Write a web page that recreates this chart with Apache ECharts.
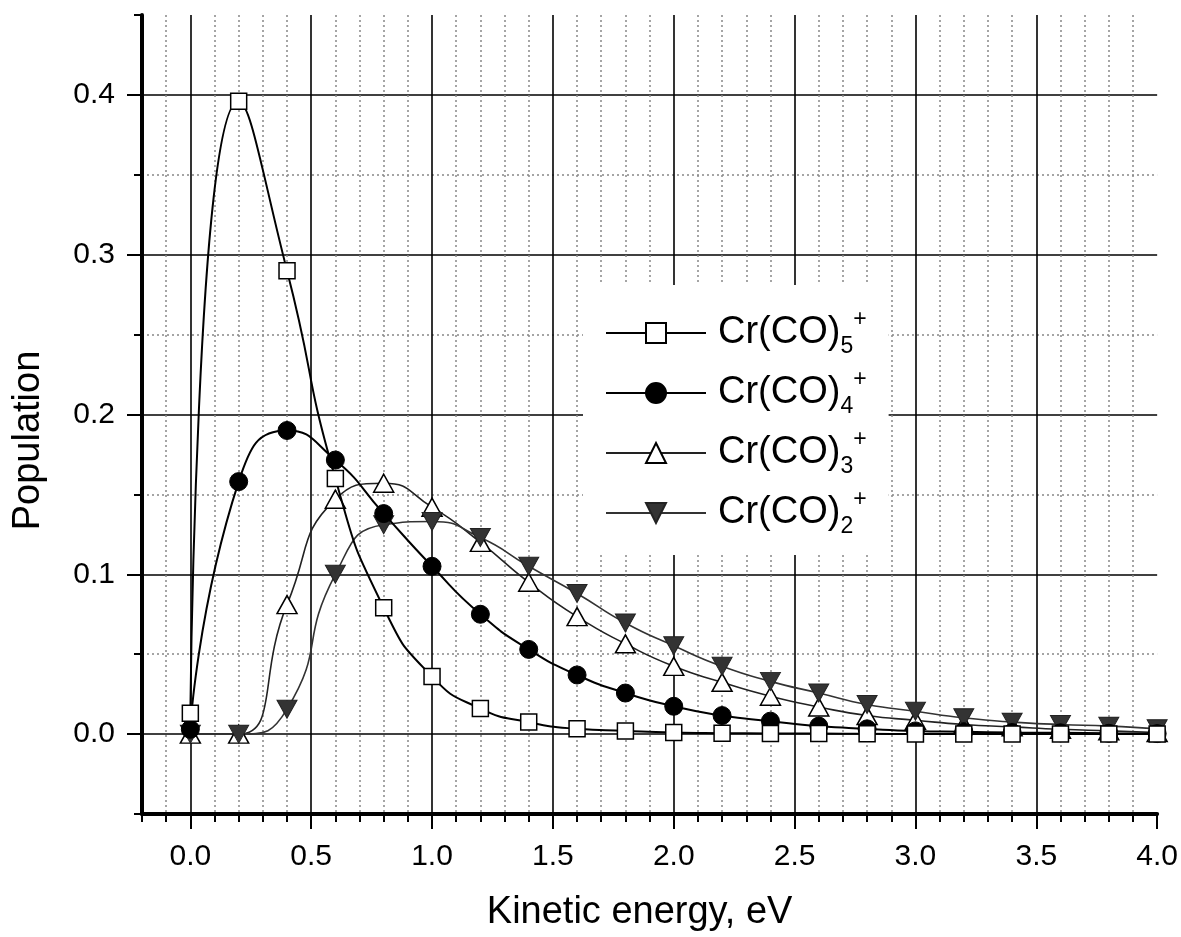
<!DOCTYPE html>
<html><head><meta charset="utf-8">
<script src="https://cdn.jsdelivr.net/npm/echarts@6/dist/echarts.min.js"></script>
<style>html,body{margin:0;padding:0;background:#fff}#c{width:1181px;height:937px}</style>
</head><body><div id="c"></div>
<script>
// ---- data ----
const energy = [0, 0.2, 0.4, 0.6, 0.8, 1.0, 1.2, 1.4, 1.6, 1.8, 2.0, 2.2, 2.4, 2.6, 2.8, 3.0, 3.2, 3.4, 3.6, 3.8, 4.0];
const cr5 = [0.013, 0.396, 0.290, 0.160, 0.079, 0.036, 0.016, 0.0075, 0.0033, 0.002, 0.001, 0.0006, 0.0004, 0.0003, 0.0002, 0.0001, 0.0001, 0, 0, 0, 0];
const cr4 = [0.003, 0.158, 0.190, 0.1715, 0.138, 0.105, 0.075, 0.053, 0.037, 0.0257, 0.0174, 0.0116, 0.0081, 0.005, 0.0033, 0.002, 0.0015, 0.001, 0.0008, 0.0005, 0.0003];
const cr3 = [0, 0, 0.081, 0.147, 0.157, 0.142, 0.120, 0.095, 0.0735, 0.0565, 0.0424, 0.0324, 0.0237, 0.017, 0.0116, 0.0087, 0.006, 0.0045, 0.003, 0.002, 0.001];
const cr2 = [0, 0, 0.0156, 0.100, 0.131, 0.133, 0.123, 0.105, 0.088, 0.0695, 0.0553, 0.0424, 0.033, 0.0257, 0.0185, 0.0143, 0.0102, 0.0075, 0.006, 0.005, 0.0033];
const seriesNames = ['Cr(CO)5+', 'Cr(CO)4+', 'Cr(CO)3+', 'Cr(CO)2+'];

// ---- tick / grid positions ----
const xMajorTicks = [0, 0.5, 1.0, 1.5, 2.0, 2.5, 3.0, 3.5, 4.0];
const xMajorGrid = [0, 0.5, 1.0, 1.5, 2.0, 2.5, 3.0, 3.5];
const xMinorGrid = [-0.1, 0.1, 0.2, 0.3, 0.4, 0.6, 0.7, 0.8, 0.9, 1.1, 1.2, 1.3, 1.4, 1.6, 1.7, 1.8, 1.9, 2.1, 2.2, 2.3, 2.4, 2.6, 2.7, 2.8, 2.9, 3.1, 3.2, 3.3, 3.4, 3.6, 3.7, 3.8, 3.9];
const yMajorTicks = [0, 0.1, 0.2, 0.3, 0.4];
const yMinorGrid = [0.05, 0.15, 0.25, 0.35];

const FONT = "'Liberation Sans', Arial, Helvetica, sans-serif";
const X_MIN = -0.2, X_MAX = 4.0, Y_MIN = -0.05, Y_MAX = 0.45;

function pairs(ys) { return energy.map((x, i) => [x, ys[i]]); }

function hiddenAxis(extra) {
  return Object.assign({
    type: 'value', axisLine: { show: false, onZero: false },
    axisLabel: { show: false }, axisPointer: { show: false }
  }, extra);
}

const chart = echarts.init(document.getElementById('c'), null, { renderer: 'canvas' });
const option = {
  animation: false,
  backgroundColor: '#fff',
  grid: { left: 142, right: 22, top: 15, bottom: 119 },
  xAxis: [
    {
      type: 'value', min: X_MIN, max: X_MAX, position: 'bottom',
      axisLine: { show: true, onZero: false, lineStyle: { color: '#000', width: 4 } },
      axisTick: { show: true, customValues: xMajorTicks, length: 15, lineStyle: { color: '#000', width: 2 } },
      axisLabel: { show: true, customValues: xMajorTicks, formatter: v => v.toFixed(1), margin: 28, fontSize: 30, color: '#000', fontFamily: FONT },
      splitLine: { show: false },
      name: 'Kinetic energy, eV', nameLocation: 'middle', nameGap: 80,
      nameTextStyle: { fontSize: 38, color: '#000', fontFamily: FONT, padding: [0, 20, 0, 0] }
    },
    hiddenAxis({ min: X_MIN, max: X_MAX, interval: 0.1, position: 'bottom',
      axisTick: { show: true, length: 8, lineStyle: { color: '#000', width: 2 } },
      splitLine: { show: false } }),
    hiddenAxis({ min: X_MIN, max: X_MAX, position: 'bottom',
      axisTick: { show: false, customValues: xMinorGrid },
      splitLine: { show: true, lineStyle: { color: '#888', width: 1.5, type: [2, 3] } } }),
    hiddenAxis({ min: X_MIN, max: X_MAX, position: 'bottom',
      axisTick: { show: false, customValues: xMajorGrid },
      splitLine: { show: true, lineStyle: { color: '#000', width: 1.6 } } })
  ],
  yAxis: [
    {
      type: 'value', min: Y_MIN, max: Y_MAX, position: 'left',
      axisLine: { show: true, onZero: false, lineStyle: { color: '#000', width: 4 } },
      axisTick: { show: true, customValues: yMajorTicks, length: 15, lineStyle: { color: '#000', width: 2 } },
      axisLabel: { show: true, customValues: yMajorTicks, formatter: v => v.toFixed(1), margin: 27, fontSize: 30, color: '#000', fontFamily: FONT },
      splitLine: { show: false },
      name: 'Population', nameLocation: 'middle', nameGap: 94,
      nameTextStyle: { fontSize: 38, color: '#000', fontFamily: FONT, padding: [0, 52, 0, 0] }
    },
    hiddenAxis({ min: Y_MIN, max: Y_MAX, interval: 0.05, position: 'left',
      axisTick: { show: true, length: 8, lineStyle: { color: '#000', width: 2 } },
      splitLine: { show: false } }),
    hiddenAxis({ min: Y_MIN, max: Y_MAX, position: 'left',
      axisTick: { show: false, customValues: yMinorGrid },
      splitLine: { show: true, lineStyle: { color: '#888', width: 1.5, type: [2, 3] } } }),
    hiddenAxis({ min: Y_MIN, max: Y_MAX, position: 'left',
      axisTick: { show: false, customValues: yMajorTicks },
      splitLine: { show: true, lineStyle: { color: '#000', width: 1.6 } } })
  ],
  legend: {
    orient: 'vertical', left: 583, top: 285,
    padding: [23, 22, 17, 22], itemGap: 10,
    itemWidth: 100, itemHeight: 25,
    backgroundColor: '#fff', selectedMode: false,
    data: seriesNames,
    formatter: function (name) {
      const n = name.replace('Cr(CO)', '').replace('+', '');
      return '{m|Cr(CO)}{s|' + n + '}{p|+}';
    },
    textStyle: {
      fontFamily: FONT, color: '#000', padding: [0, 0, 0, 7],
      rich: {
        m: { fontSize: 38, lineHeight: 50, verticalAlign: 'middle', fontFamily: FONT, color: '#000' },
        s: { fontSize: 23, lineHeight: 24, verticalAlign: 'bottom', fontFamily: FONT, color: '#000' },
        p: { fontSize: 23, lineHeight: 25, verticalAlign: 'top', fontFamily: FONT, color: '#000' }
      }
    }
  },
  series: [
    {
      type: 'line', name: seriesNames[0], data: pairs(cr5), smooth: 0.55,
      symbol: 'rect', symbolSize: 16,
      itemStyle: { color: '#fff', borderColor: '#000', borderWidth: 1.5 },
      lineStyle: { color: '#000', width: 2 }, z: 5
    },
    {
      type: 'line', name: seriesNames[1], data: pairs(cr4), smooth: 0.55,
      symbol: 'circle', symbolSize: 18,
      itemStyle: { color: '#000', borderColor: '#000', borderWidth: 1 },
      lineStyle: { color: '#000', width: 2 }, z: 4
    },
    {
      type: 'line', name: seriesNames[2], data: pairs(cr3), smooth: 0.55,
      symbol: 'triangle', symbolSize: [20, 18],
      itemStyle: { color: '#fff', borderColor: '#000', borderWidth: 1.5 },
      lineStyle: { color: '#222', width: 1.6 }, z: 3
    },
    {
      type: 'line', name: seriesNames[3], data: pairs(cr2), smooth: 0.55,
      symbol: 'triangle', symbolRotate: 180, symbolSize: [20, 18],
      itemStyle: { color: '#333', borderColor: '#222', borderWidth: 1 },
      lineStyle: { color: '#333', width: 1.6 }, z: 3
    }
  ]
};
chart.setOption(option);
</script>
</body></html>
